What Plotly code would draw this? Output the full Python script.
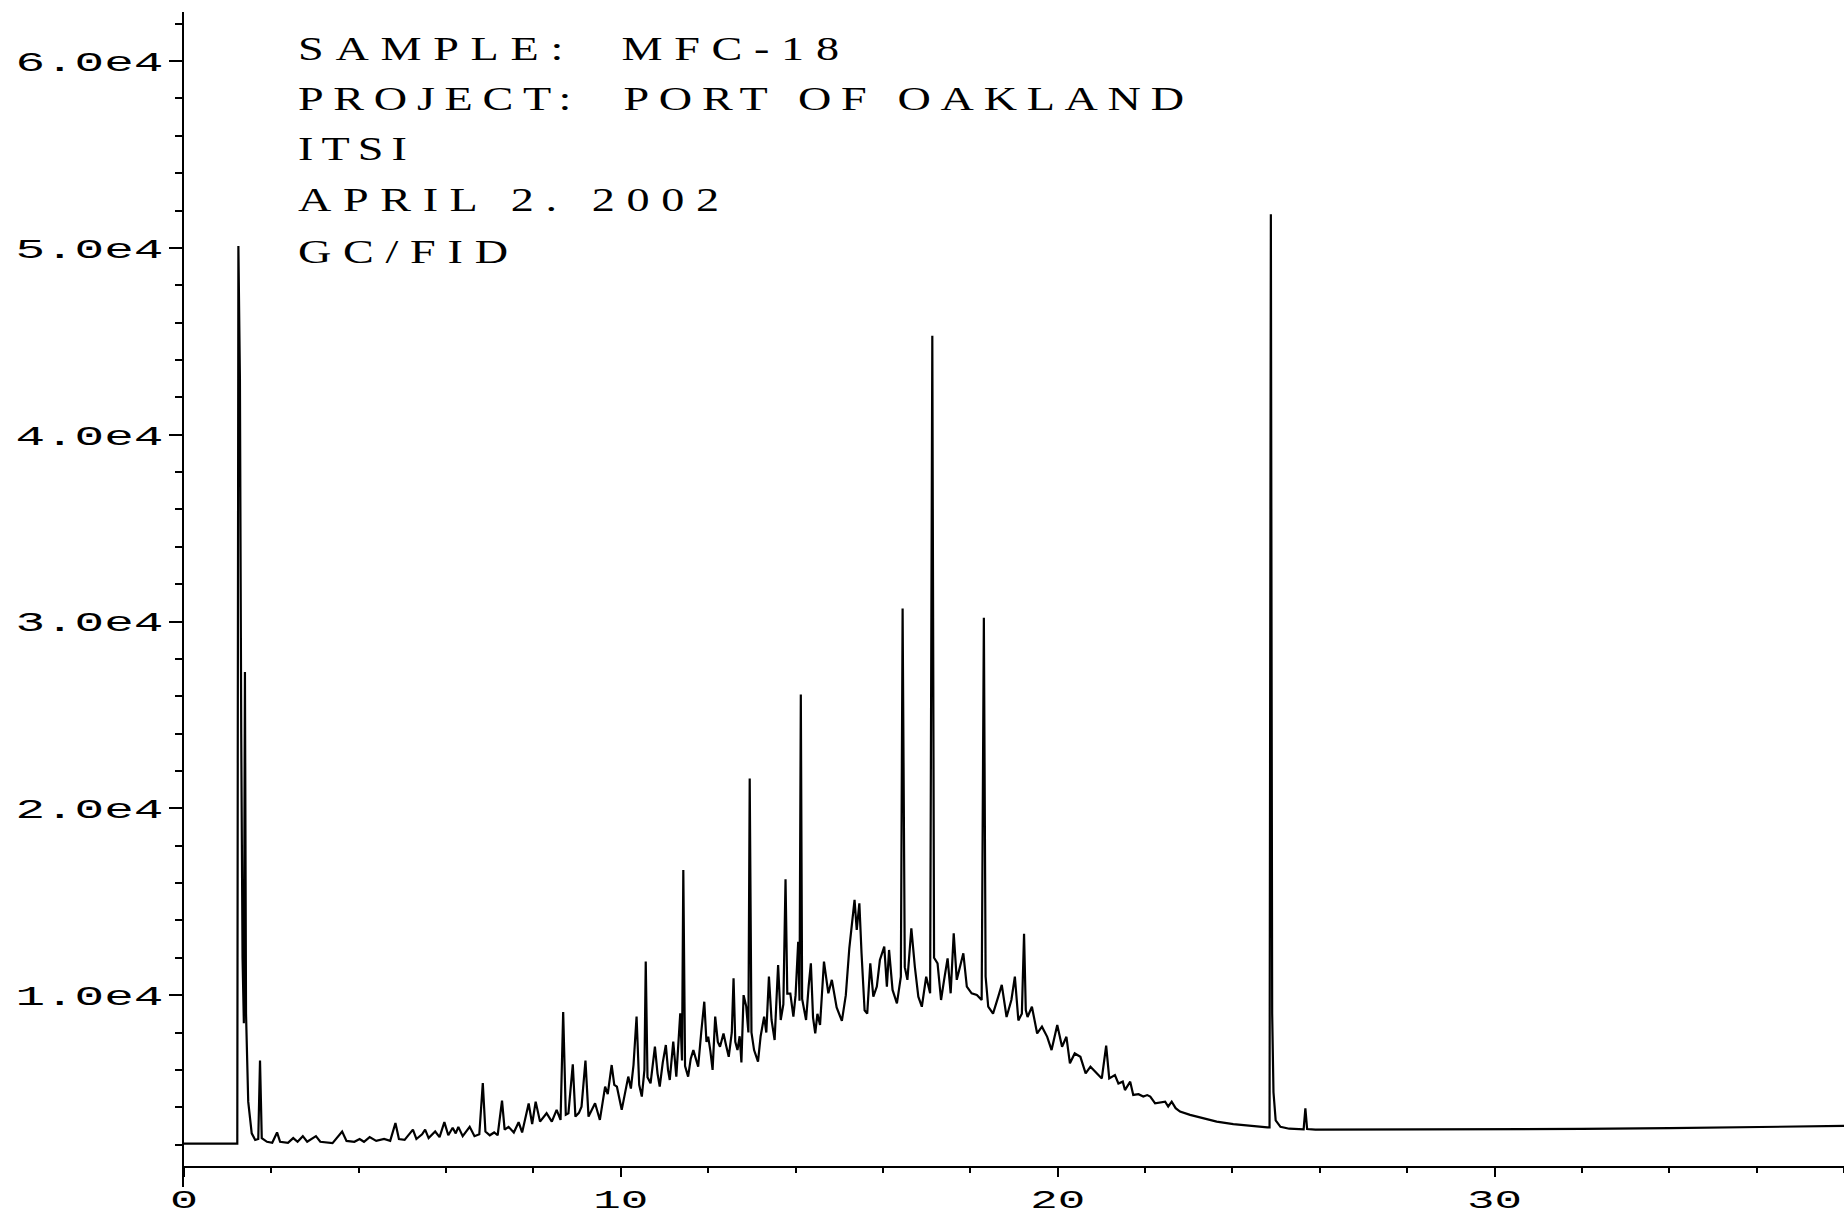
import json
import plotly.graph_objects as go

# ---------------- data ----------------
rt_min = [
    0.00, 1.22, 1.245, 1.28, 1.31, 1.34, 1.37, 1.395, 1.42, 1.47, 1.55, 1.63, 1.70, 1.74, 1.78, 1.90,
    2.02, 2.13, 2.20, 2.38, 2.50, 2.60, 2.72, 2.82, 3.02, 3.12, 3.40, 3.62, 3.72, 3.90, 4.02, 4.12,
    4.25, 4.40, 4.58, 4.72, 4.84, 4.92, 5.05, 5.24, 5.32, 5.45, 5.52, 5.60, 5.75, 5.85, 5.96, 6.05,
    6.15, 6.22, 6.28, 6.38, 6.54, 6.65, 6.76, 6.84, 6.90, 7.00, 7.10, 7.18, 7.28, 7.34, 7.43, 7.55,
    7.66, 7.74, 7.89, 7.97, 8.05, 8.15, 8.30, 8.42, 8.53, 8.62, 8.68, 8.74, 8.80, 8.90, 8.96, 9.04,
    9.10, 9.19, 9.26, 9.34, 9.41, 9.52, 9.58, 9.64, 9.70, 9.79, 9.85, 9.91, 10.02, 10.10, 10.17, 10.23,
    10.29, 10.36, 10.42, 10.48, 10.54, 10.57, 10.61, 10.68, 10.78, 10.84, 10.89, 10.96, 11.03, 11.08, 11.12, 11.20,
    11.27, 11.36, 11.40, 11.43, 11.47, 11.54, 11.60, 11.66, 11.72, 11.77, 11.84, 11.91, 11.96, 12.00, 12.05, 12.10,
    12.16, 12.22, 12.27, 12.35, 12.41, 12.47, 12.54, 12.58, 12.62, 12.67, 12.72, 12.76, 12.81, 12.87, 12.92, 12.95,
    12.99, 13.05, 13.14, 13.20, 13.28, 13.33, 13.39, 13.45, 13.52, 13.60, 13.66, 13.72, 13.77, 13.81, 13.88, 13.95,
    14.00, 14.06, 14.09, 14.12, 14.15, 14.24, 14.30, 14.35, 14.40, 14.45, 14.50, 14.56, 14.65, 14.75, 14.83, 14.94,
    15.06, 15.15, 15.23, 15.31, 15.35, 15.40, 15.46, 15.51, 15.58, 15.64, 15.71, 15.78, 15.86, 15.93, 16.03, 16.09,
    16.14, 16.22, 16.32, 16.41, 16.45, 16.50, 16.56, 16.65, 16.73, 16.81, 16.89, 16.99, 17.08, 17.13, 17.17, 17.25,
    17.33, 17.40, 17.48, 17.55, 17.62, 17.69, 17.77, 17.84, 17.92, 18.03, 18.15, 18.26, 18.31, 18.35, 18.41, 18.52,
    18.64, 18.72, 18.83, 18.94, 19.02, 19.10, 19.18, 19.23, 19.27, 19.31, 19.41, 19.53, 19.64, 19.76, 19.86, 19.99,
    20.10, 20.20, 20.28, 20.39, 20.52, 20.64, 20.75, 20.90, 21.01, 21.11, 21.18, 21.31, 21.39, 21.49, 21.54, 21.66,
    21.73, 21.85, 21.96, 22.05, 22.12, 22.23, 22.35, 22.46, 22.53, 22.61, 22.70, 22.80, 23.03, 23.34, 23.64, 24.02,
    24.41, 24.80, 24.85, 24.88, 24.91, 24.94, 24.99, 25.10, 25.30, 25.50, 25.63, 25.67, 25.71, 25.90, 27.50, 30.00,
    32.00, 34.00, 36.00, 38.00,
]

response = [
    2050, 2050, 50100, 43000, 24000, 12000, 8500, 27300, 9000, 4300, 2600, 2250, 2300, 6500, 2350, 2150,
    2100, 2650, 2150, 2100, 2350, 2150, 2450, 2150, 2450, 2150, 2080, 2700, 2200, 2150, 2300, 2150,
    2400, 2200, 2300, 2200, 3150, 2300, 2250, 2800, 2300, 2550, 2800, 2350, 2700, 2400, 3200, 2500,
    2900, 2600, 2950, 2450, 2950, 2450, 2550, 5300, 2700, 2500, 2650, 2500, 4350, 2800, 2950, 2650,
    3200, 2650, 4200, 3100, 4300, 3230, 3680, 3230, 3860, 3320, 9100, 3600, 3680, 6300, 3500, 3700,
    4030, 6500, 3500, 3900, 4210, 3320, 4300, 5100, 4700, 6260, 5200, 5100, 3860, 4800, 5640, 5000,
    6260, 8850, 5200, 4570, 6000, 11800, 5600, 5280, 7240, 5800, 5100, 6400, 7330, 6000, 5460, 7510,
    5640, 9030, 6500, 16700, 6200, 5640, 6600, 7060, 6500, 6170, 8000, 9650, 7500, 7780, 7000, 6000,
    8850, 7500, 7240, 7950, 7300, 6700, 8000, 10900, 7500, 7060, 7800, 6400, 10000, 9400, 8000, 21600,
    8000, 7060, 6440, 7800, 8850, 8000, 10990, 8670, 7600, 11610, 8670, 9500, 16200, 10080, 10080, 8850,
    10000, 12860, 9700, 26100, 9800, 8670, 10500, 11700, 8800, 7950, 9000, 8400, 11800, 10100, 10820, 9340,
    8620, 10000, 12510, 14470, 15100, 13490, 14920, 12240, 9190, 9010, 11700, 9920, 10460, 11880, 12600, 10460,
    12420, 10280, 9560, 10990, 30700, 11500, 10820, 13580, 11520, 9920, 9380, 10990, 10100, 45300, 12000, 11700,
    9740, 10820, 11970, 10100, 13310, 10820, 11520, 12240, 10460, 10100, 10010, 9740, 30200, 11000, 9380, 9010,
    9920, 10550, 8830, 9740, 10990, 8650, 9010, 13280, 9200, 8830, 9380, 7950, 8310, 7770, 7060, 8400,
    7240, 7770, 6350, 6880, 6700, 5810, 6170, 5810, 5540, 7300, 5540, 5720, 5270, 5370, 4920, 5370,
    4660, 4700, 4570, 4650, 4570, 4210, 4250, 4300, 4040, 4300, 3950, 3770, 3590, 3410, 3230, 3100,
    2990, 2920, 2920, 51800, 9000, 4800, 3300, 2950, 2850, 2820, 2820, 3940, 2830, 2800, 2800, 2810,
    2840, 2880, 2940, 3000,
]

y_tick_values = [10000, 20000, 30000, 40000, 50000, 60000]
y_tick_labels = ["1.0e4", "2.0e4", "3.0e4", "4.0e4", "5.0e4", "6.0e4"]
x_tick_values = [0, 10, 20, 30]
x_tick_labels = ["0", "10", "20", "30"]
header_lines = ["SAMPLE:  MFC-18", "PROJECT:  PORT OF OAKLAND", "ITSI", "APRIL 2. 2002", "GC/FID"]

# ---------------- figure ----------------
W, H = 1844, 1217
ML, MR, MT, MB = 184, 0, 12, 30
Y_RANGE = [-270, 62630]
X_RANGE = [0, 38]

fig = go.Figure()
fig.add_trace(go.Scatter(
    x=rt_min, y=response, mode="lines",
    line=dict(color="black", width=2.2),
    hoverinfo="skip", showlegend=False,
))

mono = "Liberation Mono, Courier New, monospace"
head_font = dict(family="Liberation Serif, Times New Roman, serif", size=33, color="black")

plot_h = H - MT - MB
xaxis_pos = (800 - Y_RANGE[0]) / (Y_RANGE[1] - Y_RANGE[0])

fig.update_layout(
    width=W, height=H,
    margin=dict(l=ML, r=MR, t=MT, b=MB, pad=0),
    paper_bgcolor="white", plot_bgcolor="white",
    showlegend=False,
    xaxis=dict(
        range=X_RANGE, showgrid=False, zeroline=False,
        showline=True, linecolor="black", linewidth=2,
        ticks="outside", ticklen=9, tickwidth=2, tickcolor="black",
        tickmode="array", tickvals=x_tick_values, ticktext=x_tick_labels,
        tickfont=dict(family=mono, size=26, color="black"), ticklabelstandoff=0,
        minor=dict(tickmode="array", tickvals=[v for v in range(2, 39, 2) if v % 10],
                   ticks="outside", ticklen=5, tickwidth=1.5, tickcolor="black", showgrid=False),
        anchor="free", position=xaxis_pos, automargin=False,
    ),
    yaxis=dict(
        range=Y_RANGE, showgrid=False, zeroline=False,
        showline=True, linecolor="black", linewidth=2,
        ticks="outside", ticklen=13, tickwidth=2, tickcolor="black",
        tickmode="array", tickvals=y_tick_values, ticktext=y_tick_labels,
        tickfont=dict(family=mono, size=28, color="black"),
        minor=dict(tickmode="array", tickvals=[v for v in range(2000, 62001, 2000) if v % 10000],
                   ticks="outside", ticklen=7, tickwidth=1.5, tickcolor="black", showgrid=False),
        automargin=False,
    ),
)

head_x_px = 296
head_y_px = [49, 99, 149, 200, 252]
for line, ypx in zip(header_lines, head_y_px):
    fig.add_annotation(
        text=line, xref="paper", yref="paper",
        x=(head_x_px - ML) / (W - ML - MR), y=1 - (ypx - MT) / plot_h,
        xanchor="left", yanchor="middle", align="left",
        showarrow=False, font=head_font,
    )

# extended plotter-style lettering: stretch glyphs and open up the spacing
head_widths = [541, 886, 109, 421, 210]
post = """
var gd = document.getElementById('{plot_id}');
function fit(t, target, s) {
  if (t.getAttribute('data-fit')) return;
  var x0 = parseFloat(t.getAttribute('x')) || 0;
  var nat = t.getComputedTextLength();
  if (!nat) return;
  if (s > 0 && t.textContent.length > 1) {
    t.setAttribute('textLength', (target / s).toFixed(2));
    t.setAttribute('lengthAdjust', 'spacing');
  } else {
    s = target / nat;
  }
  var tr = t.getAttribute('transform') || '';
  t.setAttribute('transform', tr + ' translate(' + (x0 * (1 - s)).toFixed(2) + ',0) scale(' + s.toFixed(4) + ',1)');
  t.setAttribute('data-fit', '1');
}
function widen() {
  var tw = HEADW;
  gd.querySelectorAll('.annotation-text').forEach(function(t, i) {
    if (i < tw.length) fit(t, tw[i], 1.4);
  });
  gd.querySelectorAll('.ytick text').forEach(function(t) { fit(t, 148, 0); });
  gd.querySelectorAll('.xtick text').forEach(function(t) {
    fit(t, t.textContent.length > 1 ? 55 : 28, 0);
  });
}
widen();
gd.on('plotly_afterplot', widen);
""".replace("HEADW", json.dumps(head_widths))

fig.write_html("out.html", config={"displayModeBar": False}, post_script=post)
